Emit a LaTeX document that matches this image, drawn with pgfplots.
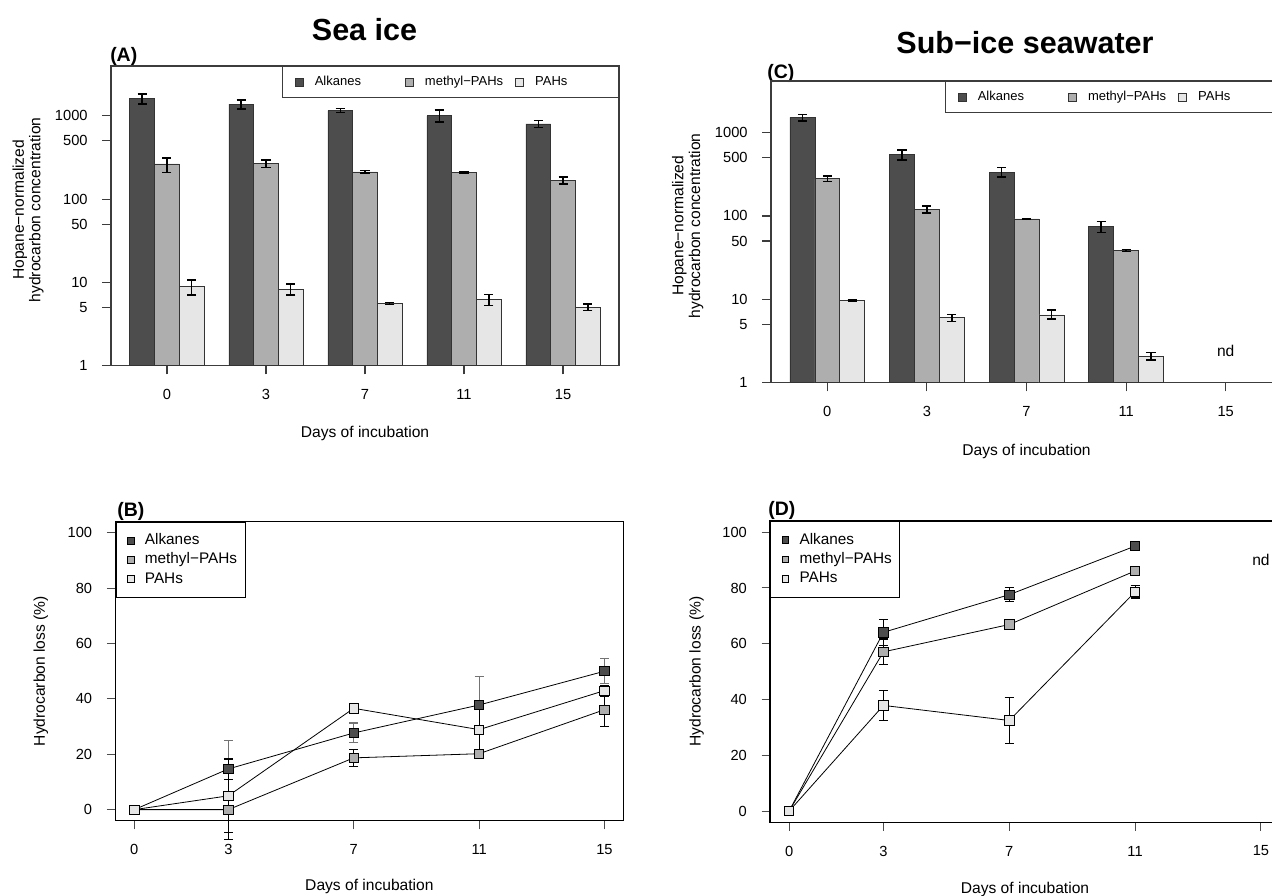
\documentclass[border=0pt]{standalone}
\usepackage{pgfplots}
\pgfplotsset{compat=1.18}
\usepackage{pgfplotstable}
\usepackage{fontspec}
\setmainfont{Liberation Sans}

\definecolor{alk}{HTML}{4D4D4D}
\definecolor{mpah}{HTML}{AEAEAE}
\definecolor{pah}{HTML}{E6E6E6}
\definecolor{framegray}{HTML}{3C3C3C}

\newcommand{\tickfont}{\fontsize{11}{13}\selectfont}
\newcommand{\labfont}{\fontsize{11.7}{12.4}\selectfont}

% Bar positions: groups of three bars (width 1) separated by a gap of 1.
% Columns: x, value, error above, error below.
\pgfplotstableread{
x    y     ep    em
1.5  1600  236   220
5.5  1380  161   167
9.5  1158  62    61
13.5 1000  180   160
17.5 801   74    81
}\iceAlk
\pgfplotstableread{
x    y    ep   em
2.5  265  48   55
6.5  267  26   28
10.5 212  8    7
14.5 208  3    3
18.5 169  16   18
}\iceMet
\pgfplotstableread{
x    y    ep   em
3.5  8.9  1.8  1.8
7.5  8.3  1.3  1.2
11.5 5.6  0.15 0.15
15.5 6.3  0.9  1.0
19.5 5.0  0.5  0.4
}\icePah
\pgfplotstableread{
x    y     ep   em
1.5  1514  130  133
5.5  540   81   74
9.5  335   46   43
13.5 75    11   12
}\seaAlk
\pgfplotstableread{
x    y    ep   em
2.5  279  21   22
6.5  120  12   12
10.5 92   1.5  1.5
14.5 38.5 1.3  1.3
}\seaMet
\pgfplotstableread{
x    y    ep   em
3.5  9.7  0.2  0.2
7.5  6.0  0.6  0.6
11.5 6.5  0.9  0.7
15.5 2.07 0.22 0.2
}\seaPah

% Hydrocarbon loss (%): day, mean, error
\pgfplotstableread{
d  y    e
0  0    0
3  14.7 10.2
7  27.7 3.6
11 37.8 10.2
15 50.0 4.6
}\lossIceAlk
\pgfplotstableread{
d  y    e
0  0    0
3  0    10.9
7  18.7 3.1
11 20.2 1.5
15 36.1 6.0
}\lossIceMet
\pgfplotstableread{
d  y    e
0  0    0
3  5.0  13.3
7  36.6 1.0
11 28.9 9.0
15 43.0 2.0
}\lossIcePah
\pgfplotstableread{
d  y    e
0  0    0
3  64.1 4.6
7  77.6 2.5
11 95.0 1.0
}\lossSeaAlk
\pgfplotstableread{
d  y    e
0  0    0
3  57.1 4.6
7  66.9 1.0
11 86.1 1.0
}\lossSeaMet
\pgfplotstableread{
d  y    e
0  0    0
3  37.9 5.5
7  32.5 8.3
11 78.6 2.2
}\lossSeaPah

% legend swatches (the invisible path leaves the gap before the entry text)
\newcommand{\barswatch}[1]{\draw[fill=#1, draw=black!80, line width=0.5pt] (0pt,-3pt) rectangle (6pt,3pt);
  \path (14.6pt,0pt);}
\newcommand{\ptswatch}[1]{\draw[fill=#1, draw=black, line width=0.5pt] (-2.6pt,-2.6pt) rectangle (2.6pt,2.6pt);
  \path (10.4pt,0pt);}

\begin{document}
\begin{tikzpicture}
\useasboundingbox (0pt,0pt) rectangle (954pt,-672pt);

% headings and panel letters
\node[anchor=base, inner sep=0pt, font=\fontsize{22.9}{24}\selectfont\bfseries] at (273.4pt,-30pt) {Sea ice};
\node[anchor=base, inner sep=0pt, font=\fontsize{22.9}{24}\selectfont\bfseries] at (768.75pt,-40pt) {Sub−ice seawater};
\node[anchor=base west, inner sep=0pt, font=\fontsize{14.6}{16}\selectfont\bfseries] at (82.5pt,-46.3pt) {(A)};
\node[anchor=base west, inner sep=0pt, font=\fontsize{14.6}{16}\selectfont\bfseries] at (575.25pt,-58.7pt) {(C)};
\node[anchor=base west, inner sep=0pt, font=\fontsize{14.6}{16}\selectfont\bfseries] at (87.75pt,-387pt) {(B)};
\node[anchor=base west, inner sep=0pt, font=\fontsize{14.6}{16}\selectfont\bfseries] at (576pt,-386.8pt) {(D)};

% (A) sea ice concentrations
\begin{axis}[at={(83.25pt,-274.28pt)}, anchor=south west,
  scale only axis, width=381pt, height=224.78pt,
  ymode=log, ymin=1, ymax=3963, xmin=0.24, xmax=20.76,
  axis line style={framegray, line width=0.9pt},
  xtick={2.5,6.5,10.5,14.5,18.5}, xticklabels={0,3,7,11,15},
  ytick={1,5,10,50,100,500,1000}, yticklabels={1,5,10,50,100,500,1000},
  minor ytick={},
  xtick pos=bottom, ytick pos=left,
  tick align=outside, major tick length=6.5pt,
  tick style={framegray, line width=0.9pt},
  tick label style={font=\tickfont},
  xticklabel style={anchor=center, yshift=-15pt},
  yticklabel style={anchor=east, xshift=-7.5pt},
  label style={font=\labfont},
  xlabel={Days of incubation},
  ylabel={Hopane−normalized\\hydrocarbon concentration},
  xlabel style={at={(axis description cs:0.5,-0.2245)}, anchor=center},
  ylabel style={at={(axis description cs:-0.163,0.52)}, anchor=center, align=center},
  legend style={at={(1,1)}, anchor=north east, draw=framegray, line width=0.8pt,
    fill=white, legend columns=3, inner xsep=9.2pt, inner ysep=7pt,
    font=\fontsize{9.75}{11}\selectfont,
    nodes={inner sep=0pt, text height=7pt, text depth=2pt}},
  legend cell align=left]
\addplot[ybar, bar width=1, bar shift=0pt, fill=alk, draw=black!80, line width=0.5pt,
  legend image code/.code={\barswatch{alk}},
  error bars/.cd, y dir=both, y explicit, error bar style={black, line width=1.1pt},
  error mark options={rotate=90, black, line width=1.1pt, mark size=3.4pt}]
  table[x=x, y=y, y error plus=ep, y error minus=em] {\iceAlk};
\addlegendentry{\makebox[67.55pt][l]{Alkanes}}
\addplot[ybar, bar width=1, bar shift=0pt, fill=mpah, draw=black!80, line width=0.5pt,
  legend image code/.code={\barswatch{mpah}},
  error bars/.cd, y dir=both, y explicit, error bar style={black, line width=1.1pt},
  error mark options={rotate=90, black, line width=1.1pt, mark size=3.4pt}]
  table[x=x, y=y, y error plus=ep, y error minus=em] {\iceMet};
\addlegendentry{\makebox[67.55pt][l]{methyl−PAHs}}
\addplot[ybar, bar width=1, bar shift=0pt, fill=pah, draw=black!80, line width=0.5pt,
  legend image code/.code={\barswatch{pah}},
  error bars/.cd, y dir=both, y explicit, error bar style={black, line width=1.1pt},
  error mark options={rotate=90, black, line width=1.1pt, mark size=3.4pt}]
  table[x=x, y=y, y error plus=ep, y error minus=em] {\icePah};
\addlegendentry{\makebox[53.25pt][l]{PAHs}}
\end{axis}

% (C) sub-ice seawater concentrations
\begin{axis}[at={(578.25pt,-287.03pt)}, anchor=south west,
  scale only axis, width=383.25pt, height=226.28pt,
  ymode=log, ymin=1, ymax=4145, xmin=0.24, xmax=20.76,
  axis line style={framegray, line width=0.9pt},
  xtick={2.5,6.5,10.5,14.5,18.5}, xticklabels={0,3,7,11,15},
  ytick={1,5,10,50,100,500,1000}, yticklabels={1,5,10,50,100,500,1000},
  minor ytick={},
  xtick pos=bottom, ytick pos=left,
  tick align=outside, major tick length=6.5pt,
  tick style={framegray, line width=0.9pt},
  tick label style={font=\tickfont},
  xticklabel style={anchor=center, yshift=-15pt},
  yticklabel style={anchor=east, xshift=-7.5pt},
  label style={font=\labfont},
  xlabel={Days of incubation},
  ylabel={Hopane−normalized\\hydrocarbon concentration},
  xlabel style={at={(axis description cs:0.5,-0.2264)}, anchor=center},
  ylabel style={at={(axis description cs:-0.163,0.52)}, anchor=center, align=center},
  legend style={at={(1,1)}, anchor=north east, draw=framegray, line width=0.8pt,
    fill=white, legend columns=3, inner xsep=9.2pt, inner ysep=7pt,
    font=\fontsize{9.75}{11}\selectfont,
    nodes={inner sep=0pt, text height=7pt, text depth=2pt}},
  legend cell align=left]
\addplot[ybar, bar width=1, bar shift=0pt, fill=alk, draw=black!80, line width=0.5pt,
  legend image code/.code={\barswatch{alk}},
  error bars/.cd, y dir=both, y explicit, error bar style={black, line width=1.1pt},
  error mark options={rotate=90, black, line width=1.1pt, mark size=3.4pt}]
  table[x=x, y=y, y error plus=ep, y error minus=em] {\seaAlk};
\addlegendentry{\makebox[67.55pt][l]{Alkanes}}
\addplot[ybar, bar width=1, bar shift=0pt, fill=mpah, draw=black!80, line width=0.5pt,
  legend image code/.code={\barswatch{mpah}},
  error bars/.cd, y dir=both, y explicit, error bar style={black, line width=1.1pt},
  error mark options={rotate=90, black, line width=1.1pt, mark size=3.4pt}]
  table[x=x, y=y, y error plus=ep, y error minus=em] {\seaMet};
\addlegendentry{\makebox[67.55pt][l]{methyl−PAHs}}
\addplot[ybar, bar width=1, bar shift=0pt, fill=pah, draw=black!80, line width=0.5pt,
  legend image code/.code={\barswatch{pah}},
  error bars/.cd, y dir=both, y explicit, error bar style={black, line width=1.1pt},
  error mark options={rotate=90, black, line width=1.1pt, mark size=3.4pt}]
  table[x=x, y=y, y error plus=ep, y error minus=em] {\seaPah};
\addlegendentry{\makebox[53.25pt][l]{PAHs}}
\node[font=\labfont] at (axis cs:18.5,2.42) {nd};
\end{axis}

% (B) sea ice loss
\begin{axis}[at={(86.63pt,-615.53pt)}, anchor=south west,
  scale only axis, width=380.85pt, height=224.25pt,
  xmin=-0.6, xmax=15.6, ymin=-4, ymax=104,
  xtick={0,3,7,11,15}, ytick={0,20,40,60,80,100},
  axis line style={black, line width=1.1pt},
  xtick pos=bottom, ytick pos=left,
  tick align=outside, major tick length=6.5pt,
  tick style={black!70, line width=0.8pt},
  tick label style={font=\tickfont},
  /pgf/number format/assume math mode=true,
  xticklabel style={anchor=center, yshift=-15pt},
  yticklabel style={anchor=east, xshift=-7.5pt},
  label style={font=\labfont},
  xlabel={Days of incubation},
  ylabel={Hydrocarbon loss (\%)},
  xlabel style={at={(axis description cs:0.5,-0.2207)}, anchor=center},
  ylabel style={at={(axis description cs:-0.1471,0.5)}, anchor=center},
  clip=false,
  legend style={at={(0,1)}, anchor=north west, draw=black, line width=0.8pt,
    fill=white, legend columns=1, inner xsep=8.1pt, inner ysep=8.6pt,
    font=\fontsize{11.5}{12}\selectfont,
    nodes={inner sep=0pt, text height=8.3pt, text depth=2.4pt},
    row sep=3.7pt},
  legend cell align=left]
\addplot[black, line width=0.6pt, mark=square*, mark size=3.5pt,
  mark options={fill=alk, draw=black, line width=0.6pt},
  legend image code/.code={\ptswatch{alk}},
  error bars/.cd, y dir=both, y explicit, error bar style={black!55, line width=0.8pt},
  error mark options={rotate=90, black!55, line width=0.8pt, mark size=3.4pt}]
  table[x=d, y=y, y error=e] {\lossIceAlk};
\addlegendentry{\makebox[67.1pt][l]{Alkanes}}
\addplot[black, line width=0.6pt, mark=square*, mark size=3.5pt,
  mark options={fill=mpah, draw=black, line width=0.6pt},
  legend image code/.code={\ptswatch{mpah}},
  error bars/.cd, y dir=both, y explicit, error bar style={black, line width=0.8pt},
  error mark options={rotate=90, black, line width=0.8pt, mark size=3.4pt}]
  table[x=d, y=y, y error=e] {\lossIceMet};
\addlegendentry{\makebox[67.1pt][l]{methyl−PAHs}}
\addplot[black, line width=0.6pt, mark=square*, mark size=3.5pt,
  mark options={fill=pah, draw=black, line width=0.6pt},
  legend image code/.code={\ptswatch{pah}},
  error bars/.cd, y dir=both, y explicit, error bar style={black, line width=0.8pt},
  error mark options={rotate=90, black, line width=0.8pt, mark size=3.4pt}]
  table[x=d, y=y, y error=e] {\lossIcePah};
\addlegendentry{\makebox[67.1pt][l]{PAHs}}
\end{axis}

% (D) sub-ice seawater loss
\begin{axis}[at={(577.65pt,-616.73pt)}, anchor=south west,
  scale only axis, width=382.2pt, height=225.98pt,
  xmin=-0.6, xmax=15.6, ymin=-4, ymax=104,
  xtick={0,3,7,11,15}, ytick={0,20,40,60,80,100},
  axis line style={black, line width=1.1pt},
  xtick pos=bottom, ytick pos=left,
  tick align=outside, major tick length=6.5pt,
  tick style={black!70, line width=0.8pt},
  tick label style={font=\tickfont},
  /pgf/number format/assume math mode=true,
  xticklabel style={anchor=center, yshift=-15pt},
  yticklabel style={anchor=east, xshift=-7.5pt},
  label style={font=\labfont},
  xlabel={Days of incubation},
  ylabel={Hydrocarbon loss (\%)},
  xlabel style={at={(axis description cs:0.5,-0.2214)}, anchor=center},
  ylabel style={at={(axis description cs:-0.1446,0.5)}, anchor=center},
  clip=false,
  legend style={at={(0,1)}, anchor=north west, draw=black, line width=0.8pt,
    fill=white, legend columns=1, inner xsep=8.1pt, inner ysep=8.6pt,
    font=\fontsize{11.5}{12}\selectfont,
    nodes={inner sep=0pt, text height=8.3pt, text depth=2.4pt},
    row sep=3.7pt},
  legend cell align=left]
\addplot[black, line width=0.6pt, mark=square*, mark size=3.5pt,
  mark options={fill=alk, draw=black, line width=0.6pt},
  legend image code/.code={\ptswatch{alk}},
  error bars/.cd, y dir=both, y explicit, error bar style={black, line width=0.8pt},
  error mark options={rotate=90, black, line width=0.8pt, mark size=3.4pt}]
  table[x=d, y=y, y error=e] {\lossSeaAlk};
\addlegendentry{\makebox[67.1pt][l]{Alkanes}}
\addplot[black, line width=0.6pt, mark=square*, mark size=3.5pt,
  mark options={fill=mpah, draw=black, line width=0.6pt},
  legend image code/.code={\ptswatch{mpah}},
  error bars/.cd, y dir=both, y explicit, error bar style={black, line width=0.8pt},
  error mark options={rotate=90, black, line width=0.8pt, mark size=3.4pt}]
  table[x=d, y=y, y error=e] {\lossSeaMet};
\addlegendentry{\makebox[67.1pt][l]{methyl−PAHs}}
\addplot[black, line width=0.6pt, mark=square*, mark size=3.5pt,
  mark options={fill=pah, draw=black, line width=0.6pt},
  legend image code/.code={\ptswatch{pah}},
  error bars/.cd, y dir=both, y explicit, error bar style={black, line width=0.8pt},
  error mark options={rotate=90, black, line width=0.8pt, mark size=3.4pt}]
  table[x=d, y=y, y error=e] {\lossSeaPah};
\addlegendentry{\makebox[67.1pt][l]{PAHs}}
\node[font=\labfont] at (axis cs:15,90) {nd};
\end{axis}
\end{tikzpicture}
\end{document}
